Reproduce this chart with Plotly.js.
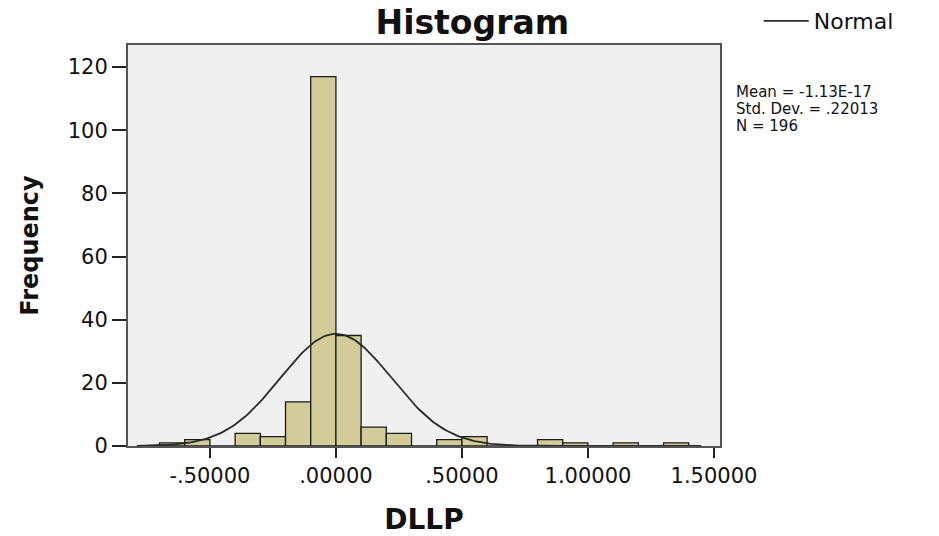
<!DOCTYPE html>
<html>
<head>
<meta charset="utf-8">
<script src="https://cdn.plot.ly/plotly-3.0.1.min.js"></script>
<style>html,body{margin:0;padding:0;background:#fff;}#chart{width:939px;height:536px;}</style>
</head>
<body>
<div id="chart"></div>
<script>
// Histogram bins (centers) and frequencies
var binCenters = [-0.65, -0.55, -0.45, -0.35, -0.25, -0.15, -0.05, 0.05, 0.15, 0.25, 0.35, 0.45, 0.55, 0.65, 0.75, 0.85, 0.95, 1.05, 1.15, 1.25, 1.35];
var frequencies = [1, 2, 0, 4, 3, 14, 117, 35, 6, 4, 0, 2, 3, 0, 0, 2, 1, 0, 1, 0, 1];
var binWidth = 0.1;

// Summary statistics shown in the chart
var statMean = -1.13e-17;
var statSD = 0.22013;
var statN = 196;
var statLines = ["Mean = -1.13E-17", "Std. Dev. = .22013", "N = 196"];

// Axis ticks
var xTickVals = [-0.5, 0, 0.5, 1.0, 1.5];
var xTickText = ["-.50000", ".00000", ".50000", "1.00000", "1.50000"];
var yTickVals = [0, 20, 40, 60, 80, 100, 120];

// Normal curve built from the stated mean / sd / N
var curveX = [], curveY = [];
for (var x = -0.79; x <= 1.45001; x += 0.01) {
  var z = (x - statMean) / statSD;
  curveX.push(x);
  curveY.push(statN * binWidth * Math.exp(-0.5 * z * z) / (statSD * Math.sqrt(2 * Math.PI)));
}

var font = "DejaVu Sans, Liberation Sans, Arial, sans-serif";

var traces = [
  {
    type: 'bar', x: binCenters, y: frequencies, width: binWidth,
    marker: {color: 'rgb(210,205,152)', line: {color: '#1a1a1a', width: 1.3}},
    showlegend: false, hoverinfo: 'x+y'
  },
  {
    type: 'scatter', mode: 'lines', x: curveX, y: curveY, name: 'Normal',
    line: {color: '#2a2a2a', width: 1.8}, showlegend: true
  }
];

var annotations = statLines.map(function (t, i) {
  return {
    text: t, xref: 'paper', yref: 'paper', x: 1.024, y: 1 - (47 + i * 17) / 401,
    xanchor: 'left', yanchor: 'middle', showarrow: false,
    font: {family: font, size: 15, color: '#111'}
  };
});

var layout = {
  width: 939, height: 536,
  margin: {l: 128, r: 219, t: 45, b: 90},
  paper_bgcolor: '#ffffff', plot_bgcolor: '#f0f0f0',
  title: {text: '<b>Histogram</b>', font: {family: font, size: 33, color: '#111'}, x: 0.503, xref: 'container', xanchor: 'center', y: 0.958, yref: 'container', yanchor: 'middle'},
  bargap: 0,
  xaxis: {
    range: [-0.825, 1.524], tickvals: xTickVals, ticktext: xTickText,
    ticks: 'outside', ticklen: 10, tickwidth: 2, tickcolor: '#222',
    showgrid: false, zeroline: false, showline: true, mirror: true, linecolor: '#555', linewidth: 2,
    tickfont: {family: font, size: 21, color: '#111'},
    title: {text: '<b>DLLP</b>', font: {family: font, size: 28, color: '#111'}, standoff: 22}
  },
  yaxis: {
    range: [0, 127], tickvals: yTickVals,
    ticks: 'outside', ticklen: 14, tickwidth: 2, tickcolor: '#222',
    showgrid: false, zeroline: false, showline: true, mirror: true, linecolor: '#555', linewidth: 2,
    tickfont: {family: font, size: 21, color: '#111'},
    title: {text: '<b>Frequency</b>', font: {family: font, size: 24, color: '#111'}, standoff: 22}
  },
  legend: {
    xref: 'container', yref: 'container',
    x: 0.808, y: 1.028, xanchor: 'left', yanchor: 'top',
    itemwidth: 45,
    bgcolor: 'rgba(0,0,0,0)', font: {family: font, size: 22, color: '#111'}
  },
  annotations: annotations
};

Plotly.newPlot('chart', traces, layout, {displayModeBar: false, staticPlot: true});
</script>
</body>
</html>
